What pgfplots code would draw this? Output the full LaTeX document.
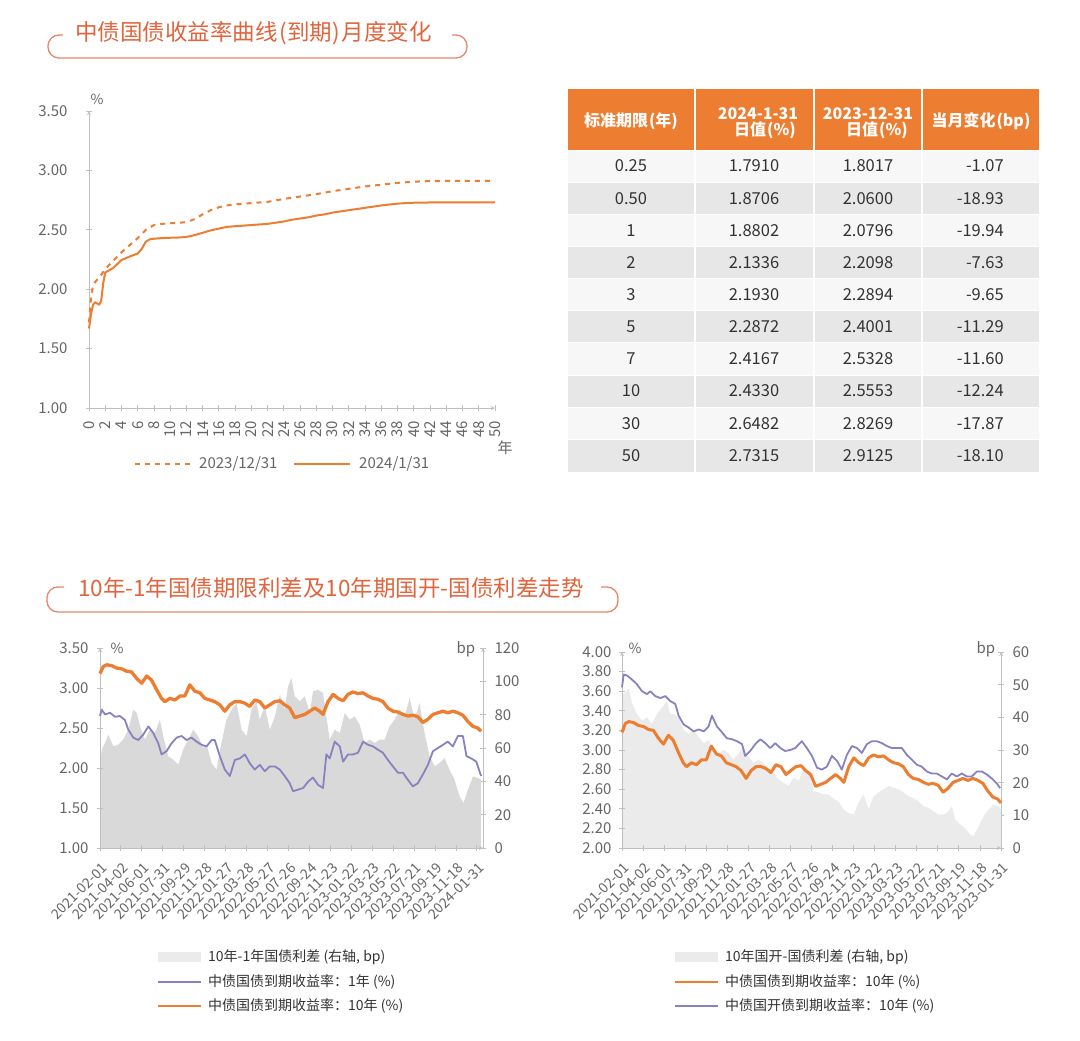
\documentclass[border=0pt]{standalone}
\usepackage{fontspec}
\setmainfont{Noto Sans CJK SC}
\usepackage{pgfplots}
\pgfplotsset{compat=1.18}
\usepackage{pgfplotstable}

\definecolor{orng}{HTML}{ED7D31}
\definecolor{purp}{HTML}{8782C0}
\definecolor{areaA}{HTML}{D9D9D9}
\definecolor{areaB}{HTML}{EBEBEB}
\definecolor{axgray}{HTML}{BFBFBF}
\definecolor{lblgray}{HTML}{666666}
\definecolor{ttl}{HTML}{E0643C}
\definecolor{brk}{HTML}{E8866A}
\definecolor{rowA}{HTML}{F7F7F7}
\definecolor{rowB}{HTML}{E7E7E7}
\definecolor{txt}{HTML}{333333}

% ---- yield curves ----
\pgfplotstableread{
x y
0 1.67
0.25 1.79
0.5 1.87
0.75 1.89
1 1.88
1.25 1.87
1.5 1.90
1.75 2.05
2 2.14
3 2.18
4 2.245
5 2.275
6 2.30
6.5 2.34
7 2.40
7.5 2.42
8 2.425
9 2.43
10 2.433
11 2.435
12 2.44
13 2.455
14 2.475
15 2.495
16 2.51
17 2.525
18 2.53
19 2.535
20 2.54
21 2.545
22 2.55
23 2.56
24 2.57
25 2.585
26 2.595
27 2.605
28 2.62
29 2.63
30 2.645
31 2.655
32 2.665
33 2.675
34 2.685
35 2.695
36 2.705
37 2.713
38 2.72
39 2.725
40 2.728
42 2.73
44 2.731
46 2.7315
50 2.7315
}\curveJan

\pgfplotstableread{
x y
0 1.72
0.1 1.80
0.25 1.93
0.5 2.03
0.75 2.06
1 2.08
1.5 2.12
2 2.17
3 2.24
4 2.31
5 2.37
6 2.43
7 2.50
8 2.54
9 2.55
10 2.555
11 2.558
12 2.565
13 2.59
14 2.63
15 2.665
16 2.69
17 2.705
18 2.715
19 2.72
20 2.725
22 2.735
24 2.76
26 2.78
28 2.80
30 2.825
32 2.845
34 2.865
36 2.88
38 2.895
40 2.905
42 2.91
44 2.911
50 2.9125
}\curveDec

% ---- 10Y government bond yield (%) ----
\pgfplotstableread{
x y
0.00 3.18
0.16 3.27
0.32 3.29
0.56 3.28
0.79 3.25
1.03 3.24
1.27 3.21
1.51 3.20
1.75 3.12
1.99 3.06
2.23 3.15
2.46 3.10
2.70 2.98
2.94 2.87
3.10 2.83
3.34 2.87
3.58 2.85
3.82 2.90
4.05 2.90
4.29 3.04
4.53 2.96
4.77 2.94
5.01 2.87
5.25 2.85
5.48 2.83
5.72 2.79
5.96 2.71
6.20 2.79
6.44 2.83
6.68 2.83
6.92 2.81
7.15 2.77
7.39 2.85
7.63 2.83
7.87 2.75
8.11 2.79
8.35 2.83
8.59 2.84
8.82 2.79
9.06 2.75
9.30 2.63
9.54 2.65
9.78 2.67
10.02 2.71
10.25 2.75
10.49 2.71
10.65 2.67
10.89 2.83
11.13 2.92
11.37 2.87
11.61 2.84
11.84 2.92
12.08 2.95
12.32 2.93
12.56 2.94
12.80 2.90
13.04 2.87
13.27 2.86
13.51 2.83
13.75 2.75
13.99 2.71
14.23 2.70
14.47 2.67
14.71 2.65
14.94 2.66
15.18 2.64
15.42 2.57
15.66 2.61
15.90 2.67
16.14 2.69
16.38 2.71
16.61 2.69
16.85 2.71
17.09 2.69
17.33 2.66
17.57 2.58
17.81 2.52
18.04 2.50
18.20 2.46
}\tenY

% ---- 1Y government bond yield (%) ----
\pgfplotstableread{
x y
0.00 2.65
0.08 2.73
0.24 2.67
0.48 2.69
0.72 2.64
0.95 2.65
1.19 2.60
1.35 2.48
1.59 2.38
1.83 2.35
2.07 2.42
2.31 2.52
2.54 2.44
2.78 2.31
2.94 2.17
3.18 2.21
3.42 2.31
3.66 2.38
3.90 2.40
4.13 2.35
4.37 2.38
4.61 2.33
4.85 2.29
5.09 2.27
5.33 2.35
5.48 2.35
5.72 2.15
5.96 1.98
6.20 1.90
6.44 2.10
6.68 2.12
6.92 2.17
7.15 2.06
7.39 1.98
7.63 2.04
7.87 1.96
8.11 2.02
8.35 2.02
8.59 1.98
8.82 1.90
9.06 1.81
9.22 1.71
9.46 1.73
9.70 1.75
9.94 1.83
10.17 1.88
10.41 1.79
10.65 1.75
10.81 2.17
10.97 2.12
11.21 2.33
11.45 2.27
11.61 2.08
11.84 2.17
12.08 2.17
12.32 2.19
12.56 2.33
12.80 2.29
13.04 2.27
13.27 2.23
13.51 2.19
13.75 2.10
13.99 2.02
14.23 1.94
14.47 1.94
14.71 1.85
14.94 1.77
15.18 1.81
15.42 1.92
15.66 2.04
15.90 2.21
16.14 2.25
16.38 2.29
16.61 2.33
16.85 2.27
17.09 2.40
17.33 2.40
17.50 2.15
17.73 2.12
17.97 2.08
18.20 1.90
}\oneY

% ---- 10Y-1Y spread (bp) ----
\pgfplotstableread{
x y
0.00 49
0.08 59
0.24 63
0.40 68
0.64 61
0.87 62
1.11 65
1.35 71
1.59 83
1.75 81
1.91 73
2.15 65
2.38 71
2.62 69
2.86 77
3.02 67
3.26 55
3.50 53
3.74 50
3.97 59
4.21 65
4.45 71
4.69 67
4.93 60
5.09 62
5.33 51
5.56 47
5.80 63
6.04 77
6.28 83
6.52 87
6.76 71
7.00 67
7.23 83
7.47 88
7.63 77
7.87 85
8.11 71
8.35 79
8.59 92
8.82 83
8.98 97
9.14 102
9.30 91
9.54 88
9.78 91
10.02 81
10.17 94
10.41 95
10.65 93
10.81 79
10.97 65
11.21 71
11.45 69
11.69 81
11.92 77
12.16 79
12.40 74
12.64 63
12.88 65
13.12 63
13.35 65
13.59 65
13.83 73
14.07 77
14.31 83
14.55 79
14.79 90
15.02 77
15.26 87
15.50 69
15.74 55
15.98 49
16.22 51
16.45 54
16.69 47
16.93 41
17.17 31
17.36 27
17.57 35
17.81 43
18.04 42
18.20 41
}\termSpread

% ---- 10Y CDB bond yield (%) ----
\pgfplotstableread{
x y
0.00 3.64
0.08 3.77
0.24 3.76
0.47 3.72
0.71 3.67
0.95 3.60
1.19 3.57
1.34 3.60
1.58 3.55
1.82 3.53
2.06 3.55
2.29 3.50
2.53 3.47
2.69 3.35
2.93 3.26
3.16 3.23
3.40 3.19
3.64 3.21
3.88 3.19
4.11 3.24
4.27 3.35
4.51 3.24
4.75 3.18
4.98 3.12
5.22 3.11
5.46 3.09
5.70 3.06
5.85 2.94
6.09 2.99
6.33 3.06
6.57 3.11
6.80 3.07
7.04 3.02
7.28 3.07
7.52 3.02
7.75 2.99
7.99 3.00
8.23 3.02
8.54 3.09
8.78 3.02
9.02 2.94
9.26 2.82
9.49 2.80
9.73 2.83
9.97 2.94
10.21 2.89
10.44 2.80
10.68 2.95
10.92 3.04
11.16 3.02
11.39 2.97
11.63 3.06
11.87 3.09
12.10 3.09
12.34 3.07
12.58 3.04
12.82 3.02
13.05 3.02
13.29 3.02
13.53 2.95
13.77 2.90
14.00 2.85
14.24 2.83
14.48 2.78
14.72 2.76
14.95 2.76
15.19 2.73
15.43 2.70
15.66 2.76
15.90 2.73
16.14 2.76
16.38 2.73
16.61 2.73
16.85 2.78
17.09 2.78
17.33 2.75
17.56 2.71
17.80 2.66
17.96 2.61
}\cdbY

% ---- CDB - government spread (bp) ----
\pgfplotstableread{
x y
0.00 47
0.16 47.5
0.32 49
0.47 44.5
0.71 41
0.95 39
1.19 40
1.42 38
1.66 41
1.90 43
2.14 45
2.29 41
2.45 41
2.69 40
2.93 36
3.16 35
3.40 36
3.64 34
3.88 32
4.11 33
4.35 30
4.59 29
4.83 30
5.06 29
5.30 27
5.54 29
5.78 31
6.01 28
6.25 26
6.49 27
6.72 26
6.96 24
7.20 23
7.44 21
7.67 20
7.91 19
8.15 21.5
8.39 20.5
8.62 24
8.86 23.5
9.10 17.4
9.34 17
9.57 16.4
9.81 16.4
10.05 15
10.28 14.3
10.52 11.8
10.76 10.7
11.00 10.2
11.23 13.8
11.47 16.4
11.71 11.8
11.95 15.8
12.18 17
12.42 18
12.66 19
12.90 18.4
13.13 18
13.37 17
13.61 15.8
13.84 15.3
14.08 14.3
14.32 12.8
14.56 12.3
14.79 11.2
15.03 10.2
15.27 10.2
15.51 11.2
15.66 12.8
15.82 8.7
16.06 7.2
16.30 6.1
16.53 4.1
16.69 3.6
16.93 6.6
17.17 9.7
17.41 11.8
17.64 13.3
17.88 12.8
18.00 11.8
}\cdbSpread

\pgfplotsset{
  base/.style={
    scale only axis,
    axis line style={draw=axgray, line width=0.9pt, -},
    every outer x axis line/.append style={-},
    every outer y axis line/.append style={-},
    every inner x axis line/.append style={-},
    every inner y axis line/.append style={-},
    tick style={draw=axgray, line width=0.9pt},
    tick align=outside,
    major tick length=6pt,
    minor tick num=0,
    ticklabel style={font=\fontsize{15}{18}\selectfont, text=lblgray},
    /pgf/number format/assume math mode=true,
    clip=false,
  },
  ydec/.style={yticklabel style={/pgf/number format/fixed, /pgf/number format/fixed zerofill, /pgf/number format/precision=2}},
  datelbl/.style={xticklabel style={xshift=1pt, yshift=-11pt, rotate=45, anchor=north east, font=\fontsize{14}{16}\selectfont, inner sep=0pt}},
}

\newcommand{\tfont}{\fontsize{22.5}{26}\selectfont}
\newcommand{\lfont}{\fontsize{14}{17}\selectfont}
\newcommand{\cfont}{\fontsize{16.5}{19}\selectfont}
\newcommand{\hfont}{\fontsize{16}{17}\selectfont\bfseries}

\begin{document}
\begin{tikzpicture}
\path[use as bounding box, fill=white] (0pt,0pt) rectangle (1080pt,-1041pt);

% ================= decorations, titles, table, legends =================
\begin{scope}[x=1pt, y=-1pt]
  % title 1
  \draw[brk, line width=1.3pt, rounded corners=11pt] (63,35) -- (48,35) -- (48,58) -- (467,58) -- (467,35) -- (452,35);
  \node[anchor=west, text=ttl, inner sep=0pt] at (75,33) {\tfont 中债国债收益率曲线\hspace{2pt}(到期)\hspace{2pt}月度变化};
  % title 2
  \draw[brk, line width=1.3pt, rounded corners=11pt] (64,587) -- (47,587) -- (47,612) -- (618,612) -- (618,587) -- (601,587);
  \node[anchor=west, text=ttl, inner sep=0pt] at (78,588) {\tfont 10年-1年国债期限利差及10年期国开-国债利差走势};

  % ---- table ----
  \fill[orng] (568,89) rectangle (1039,150);
  \foreach \i/\c in {0/rowA,1/rowB,2/rowA,3/rowB,4/rowA,5/rowB,6/rowA,7/rowB,8/rowA,9/rowB}{
    \fill[\c] (568,{150+\i*32.15}) rectangle (1039,{150+(\i+1)*32.15});
  }
  \foreach \xx in {695,814,922}{
    \draw[white, line width=2pt] (\xx,89) -- (\xx,472);
  }
  \foreach \yy in {150,182.15,214.3,246.45,278.6,310.75,342.9,375.05,407.2,439.35}{
    \draw[white, line width=1pt] (568,\yy) -- (1039,\yy);
  }
  \node[text=white, inner sep=0pt] at (631,121) {\hfont 标准期限\hspace{1pt}(年)};
  \node[text=white, inner sep=0pt] at (758,114) {\hfont 2024-1-31};
  \node[text=white, inner sep=0pt] at (765,130) {\hfont 日值\hspace{1pt}(\%)};
  \node[text=white, inner sep=0pt] at (868,114) {\hfont 2023-12-31};
  \node[text=white, inner sep=0pt] at (877,130) {\hfont 日值\hspace{1pt}(\%)};
  \node[text=white, inner sep=0pt] at (981,121) {\hfont 当月变化\hspace{1pt}(bp)};
  \foreach \i/\a/\b/\c/\d in {0/0.25/1.7910/1.8017/-1.07, 1/0.50/1.8706/2.0600/-18.93, 2/1/1.8802/2.0796/-19.94, 3/2/2.1336/2.2098/-7.63, 4/3/2.1930/2.2894/-9.65, 5/5/2.2872/2.4001/-11.29, 6/7/2.4167/2.5328/-11.60, 7/10/2.4330/2.5553/-12.24, 8/30/2.6482/2.8269/-17.87, 9/50/2.7315/2.9125/-18.10}{
    \node[text=txt, inner sep=0pt] at (631,{166+\i*32.15}) {\cfont \a};
    \node[text=txt, inner sep=0pt] at (754,{166+\i*32.15}) {\cfont \b};
    \node[text=txt, inner sep=0pt] at (868,{166+\i*32.15}) {\cfont \c};
    \node[text=txt, inner sep=0pt, anchor=east] at (1004,{166+\i*32.15}) {\cfont \d};
  }

  % ---- top chart extras ----
  \node[text=lblgray, inner sep=0pt] at (97,99) {\fontsize{14}{16}\selectfont \%};
  \node[text=lblgray, inner sep=0pt] at (505,448) {\fontsize{15}{17}\selectfont 年};
  \draw[orng, line width=2pt, dash pattern=on 5pt off 5pt] (135,464) -- (192,464);
  \node[anchor=west, text=lblgray, inner sep=0pt] at (199,464) {\fontsize{15}{17}\selectfont 2023/12/31};
  \draw[orng, line width=2pt] (294,464) -- (350,464);
  \node[anchor=west, text=lblgray, inner sep=0pt] at (359,464) {\fontsize{15}{17}\selectfont 2024/1/31};

  % ---- bottom chart extras ----
  \node[text=lblgray, inner sep=0pt] at (117,648) {\fontsize{14}{16}\selectfont \%};
  \node[text=lblgray, inner sep=0pt] at (466,649) {\fontsize{15}{17}\selectfont bp};
  \node[text=lblgray, inner sep=0pt] at (635,648) {\fontsize{14}{16}\selectfont \%};
  \node[text=lblgray, inner sep=0pt] at (986,649) {\fontsize{15}{17}\selectfont bp};

  % legends
  \fill[areaB] (158,952) rectangle (201,962);
  \node[anchor=west, text=txt, inner sep=0pt] at (208,957) {\lfont 10年-1年国债利差 (右轴, bp)};
  \draw[purp, line width=1.5pt] (158,982) -- (201,982);
  \node[anchor=west, text=txt, inner sep=0pt] at (208,982) {\lfont 中债国债到期收益率：1年 (\%)};
  \draw[orng, line width=1.8pt] (158,1006) -- (201,1006);
  \node[anchor=west, text=txt, inner sep=0pt] at (208,1006) {\lfont 中债国债到期收益率：10年 (\%)};

  \fill[areaB] (675,952) rectangle (718,962);
  \node[anchor=west, text=txt, inner sep=0pt] at (725,957) {\lfont 10年国开-国债利差 (右轴, bp)};
  \draw[orng, line width=1.8pt] (675,982) -- (718,982);
  \node[anchor=west, text=txt, inner sep=0pt] at (725,982) {\lfont 中债国债到期收益率：10年 (\%)};
  \draw[purp, line width=1.5pt] (675,1006) -- (718,1006);
  \node[anchor=west, text=txt, inner sep=0pt] at (725,1006) {\lfont 中债国开债到期收益率：10年 (\%)};
\end{scope}

% ================= top chart: yield curve =================
\begin{axis}[base, ydec,
  at={(89pt,-408pt)}, anchor=south west,
  width=406pt, height=297pt,
  xmin=0, xmax=50, ymin=1, ymax=3.5,
  axis x line=bottom, axis y line=left,
  xtick={0,2,...,50}, ytick={1,1.5,2,2.5,3,3.5},
  xticklabel style={yshift=-10pt, rotate=90, anchor=east, font=\fontsize{15}{16}\selectfont, inner sep=0pt},
  yticklabel style={xshift=-15pt},
]
\addplot[orng, line width=2pt, dash pattern=on 5pt off 5pt, no marks] table[x=x,y=y]{\curveDec};
\addplot[orng, line width=2pt, no marks, line join=round] table[x=x,y=y]{\curveJan};
\end{axis}

% ================= bottom-left chart =================
\begin{axis}[base,
  at={(100pt,-848pt)}, anchor=south west,
  width=383pt, height=200pt,
  xmin=0, xmax=18.29, ymin=0, ymax=120,
  axis y line=right, hide x axis,
  ytick={0,20,...,120},
  yticklabel style={xshift=5pt},
]
\addplot[fill=areaA, draw=none] table[x=x,y=y]{\termSpread} \closedcycle;
\end{axis}
\begin{axis}[base, ydec, datelbl,
  at={(100pt,-848pt)}, anchor=south west,
  width=383pt, height=200pt,
  xmin=0, xmax=18.29, ymin=1, ymax=3.5,
  axis x line=bottom, axis y line=left,
  ytick={1,1.5,2,2.5,3,3.5},
  yticklabel style={xshift=-5pt},
  xtick={0,...,18},
  xticklabels={2021-02-01,2021-04-02,2021-06-01,2021-07-31,2021-09-29,2021-11-28,2022-01-27,2022-03-28,2022-05-27,2022-07-26,2022-09-24,2022-11-23,2023-01-22,2023-03-23,2023-05-22,2023-07-21,2023-09-19,2023-11-18,2024-01-31},
]
\addplot[purp, line width=1.8pt, no marks, line join=round] table[x=x,y=y]{\oneY};
\addplot[orng, line width=3.3pt, no marks, line join=round] table[x=x,y=y]{\tenY};
\end{axis}

% ================= bottom-right chart =================
\begin{axis}[base,
  at={(622pt,-848pt)}, anchor=south west,
  width=379pt, height=196pt,
  xmin=0, xmax=18, ymin=0, ymax=60,
  axis y line=right, hide x axis,
  ytick={0,10,...,60},
  yticklabel style={xshift=5pt},
]
\addplot[fill=areaB, draw=none] table[x=x,y=y]{\cdbSpread} \closedcycle;
\end{axis}
\begin{axis}[base, ydec, datelbl,
  at={(622pt,-848pt)}, anchor=south west,
  width=379pt, height=196pt,
  xmin=0, xmax=18, ymin=2, ymax=4,
  axis x line=bottom, axis y line=left,
  ytick={2,2.2,2.4,2.6,2.8,3,3.2,3.4,3.6,3.8,4},
  yticklabel style={xshift=-4pt},
  xtick={0,...,18},
  xticklabels={2021-02-01,2021-04-02,2021-06-01,2021-07-31,2021-09-29,2021-11-28,2022-01-27,2022-03-28,2022-05-27,2022-07-26,2022-09-24,2022-11-23,2022-01-22,2023-03-23,2023-05-22,2023-07-21,2023-09-19,2023-11-18,2023-01-31},
]
\addplot[orng, line width=3pt, no marks, line join=round] table[x expr=\thisrow{x}*18/18.2, y=y]{\tenY};
\addplot[purp, line width=1.8pt, no marks, line join=round] table[x=x,y=y]{\cdbY};
\end{axis}
\end{tikzpicture}
\end{document}
